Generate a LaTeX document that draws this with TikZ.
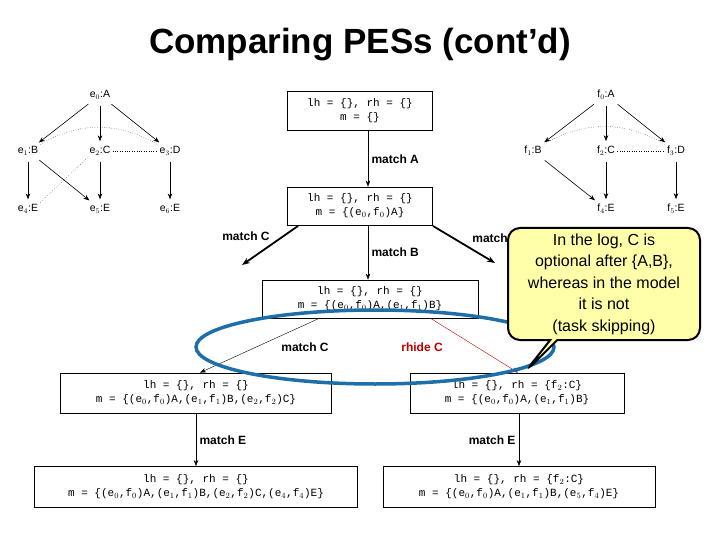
\documentclass[tikz,border=0pt]{standalone}
\usepackage{fontspec}
\setmainfont{Liberation Sans}
\setmonofont{Liberation Mono}
\usetikzlibrary{arrows.meta,shapes.callouts}
\begin{document}
\begin{tikzpicture}[x=1pt,y=-1pt,
  st/.style={draw,thick,fill=white,inner sep=3pt,align=center,font=\ttfamily\fontsize{11}{14}\selectfont},
  ev/.style={font=\fontsize{10.5}{11}\selectfont,inner sep=2pt},
  ea/.style={-{Stealth[length=6pt]},semithick,shorten <=4pt,shorten >=3pt},
  ca/.style={dotted,thin},
  th/.style={-{Stealth[length=8pt]},line width=1.8pt},
  tn/.style={-{Stealth[length=6pt]},thin},
  lb/.style={font=\bfseries\fontsize{12}{13}\selectfont}]
\useasboundingbox (0,0) rectangle (720,540);
\node (title) at (360,45) {\bfseries\fontsize{35}{40}\selectfont Comparing PESs (cont’d)};
% left PES
\node[ev] (e0) at (100,95) {e$_0$:A};
\node[ev] (e1) at (28,151) {e$_1$:B};
\node[ev] (e2) at (100,151) {e$_2$:C};
\node[ev] (e3) at (170,151) {e$_3$:D};
\node[ev] (e4) at (28,209) {e$_4$:E};
\node[ev] (e5) at (100,209) {e$_5$:E};
\node[ev] (e6) at (170,209) {e$_6$:E};
\draw[ea] (e0) -- (e1); \draw[ea] (e0) -- (e2); \draw[ea] (e0) -- (e3);
\draw[ea] (e1) -- (e4); \draw[ea] (e1) -- (e5); \draw[ea] (e2) -- (e5); \draw[ea] (e3) -- (e6);
\draw[ca] (e1.north east) to[bend left=30] (e3.north west);
\draw[ca] (e2) -- (e3);
\draw[ca] (e4.north east) -- (e2.south west);
% right PES
\node[ev] (f0) at (606,95) {f$_0$:A};
\node[ev] (f1) at (533,151) {f$_1$:B};
\node[ev] (f2) at (606,151) {f$_2$:C};
\node[ev] (f3) at (676,151) {f$_3$:D};
\node[ev] (f4) at (606,209) {f$_4$:E};
\node[ev] (f5) at (676,209) {f$_5$:E};
\draw[ea] (f0) -- (f1); \draw[ea] (f0) -- (f2); \draw[ea] (f0) -- (f3);
\draw[ea] (f1) -- (f4); \draw[ea] (f2) -- (f4); \draw[ea] (f3) -- (f5);
\draw[ca] (f1.north east) to[bend left=30] (f3.north west);
\draw[ca] (f2) -- (f3);
% states
\node[st,minimum width=145pt,minimum height=39pt] (b1) at (360,111) {lh = \{\}, rh = \{\}\\m = \{\}};
\node[st,minimum width=145pt,minimum height=38pt] (b2) at (360,206) {lh = \{\}, rh = \{\}\\m = \{(e$_0$,f$_0$)A\}};
\node[st,minimum width=216pt,minimum height=38pt] (b3) at (370,299) {lh = \{\}, rh = \{\}\\m = \{(e$_0$,f$_0$)A,(e$_1$,f$_1$)B\}};
\node[st,minimum width=271pt,minimum height=40pt] (b4) at (196,393) {lh = \{\}, rh = \{\}\\m = \{(e$_0$,f$_0$)A,(e$_1$,f$_1$)B,(e$_2$,f$_2$)C\}};
\node[st,minimum width=214pt,minimum height=40pt] (b5) at (517,393) {lh = \{\}, rh = \{f$_2$:C\}\\m = \{(e$_0$,f$_0$)A,(e$_1$,f$_1$)B\}};
\node[st,minimum width=323pt,minimum height=41pt] (b6) at (196,487) {lh = \{\}, rh = \{\}\\m = \{(e$_0$,f$_0$)A,(e$_1$,f$_1$)B,(e$_2$,f$_2$)C,(e$_4$,f$_4$)E\}};
\node[st,minimum width=272pt,minimum height=41pt] (b7) at (519,487) {lh = \{\}, rh = \{f$_2$:C\}\\m = \{(e$_0$,f$_0$)A,(e$_1$,f$_1$)B,(e$_5$,f$_4$)E\}};
\coordinate (cl) at (242,265);
\coordinate (cr) at (495,263);
\draw[tn] (b1.south -| 368,0) -- (b2.north -| 368,0) node[lb,midway,right] {match A};
\draw[tn] (b2.south -| 368,0) -- (b3.north -| 368,0) node[lb,midway,right] {match B};
\draw[th] (298,226) -- (cl);
\node[lb] (lc) at (246,236) {match C};
\draw[th] (433,226) -- (cr);
\node[lb] (ld) at (496,238) {match D};
\draw[tn] (320,318) -- (b4.north east -| 200,0);
\node[lb] (lc2) at (305,347) {match C};
\draw[tn,red!75!black] (430,318) -- (b5.north -| 518,0);
\node[lb,text=red!75!black] (lr) at (422,347) {rhide C};
\draw[tn] (b4.south) -- (b6.north) node[lb,midway,right] {match E};
\draw[tn] (b5.south -| 519,0) -- (b7.north -| 519,0) node[lb,midway,left] {match E};
% ellipse
\draw[line width=3.5pt,draw={rgb,255:red,30;green,110;blue,170}] (375,347) ellipse [x radius=179pt,y radius=37pt];
% callout
\node[rectangle callout,rounded corners=12pt,draw,line width=2pt,fill={rgb,255:red,255;green,255;blue,170},
  minimum width=192pt,minimum height=112pt,align=center,font=\fontsize{16}{21.5}\selectfont,
  callout absolute pointer={(525,372)}] (co) at (604,284)
  {In the log, C is\\optional after \{A,B\},\\whereas in the model\\it is not\\(task skipping)};
\end{tikzpicture}
\end{document}
